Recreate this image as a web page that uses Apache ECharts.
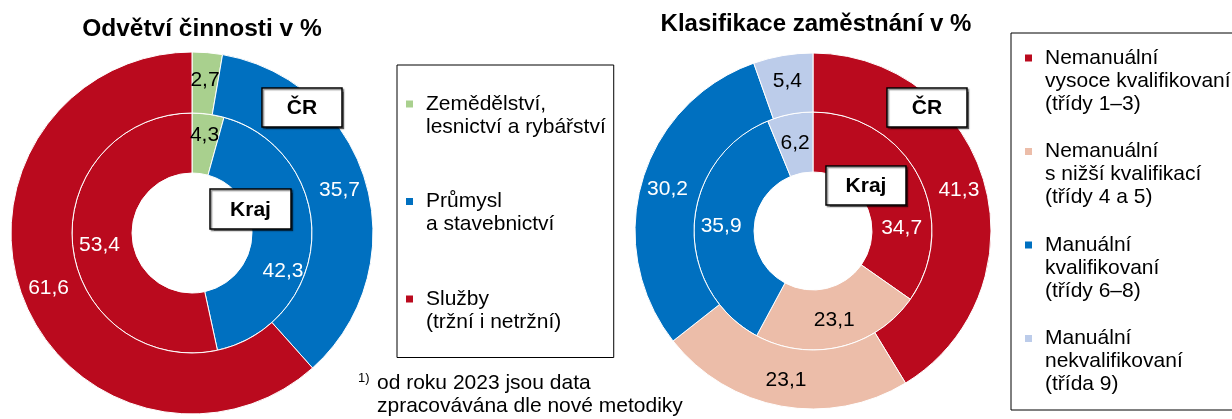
<!DOCTYPE html>
<html><head><meta charset="utf-8">
<script src="https://cdn.jsdelivr.net/npm/echarts@6/dist/echarts.min.js"></script>
<style>html,body{margin:0;padding:0;background:#fff}#c{width:1232px;height:419px}</style>
</head><body><div id="c"></div>
<script>
// ---- data ----
const sectorNames = ['Zemědělství,\nlesnictví a rybářství', 'Průmysl\na stavebnictví', 'Služby\n(tržní i netržní)'];
const sectorKraj = [4.3, 42.3, 53.4];
const sectorCR = [2.7, 35.7, 61.6];

const occupNames = ['Nemanuální\nvysoce kvalifikovaní\n(třídy 1–3)', 'Nemanuální\ns nižší kvalifikací\n(třídy 4 a 5)', 'Manuální\nkvalifikovaní\n(třídy 6–8)', 'Manuální\nnekvalifikovaní\n(třída 9)'];
const occupKraj = [34.7, 23.1, 35.9, 6.2];
const occupCR = [41.3, 23.1, 30.2, 5.4];

// ---- styles ----
const FONT = 'Liberation Sans, Arial, sans-serif';
const sectorColors = ['#A9D08E', '#0070C0', '#BA0A1E'];
const sectorLabelColors = ['#000', '#fff', '#fff'];
const occupColors = ['#BA0A1E', '#ECBDA9', '#0070C0', '#BCCCEA'];
const occupLabelColors = ['#fff', '#000', '#fff', '#000'];
const sectorKrajOffsets = [[0, -6], [-2, 36], [0, 2]];
const occupKrajOffsets = [[7, 40], [0, 0], [0, 0], [0, 2]];

const fmt = v => v.toFixed(1).replace('.', ',');
const LH = 23;
// legend marker aligned with the first text line of a multi-line item
const topIcon = lines => 'path://M0,0H9 M0,7H9V16H0Z M0,' + (lines * LH) + 'H9';

function ring(name, vals, names, colors, labelColors, center, radius, offsets) {
  return {
    type: 'pie', name, center, radius, startAngle: 90, clockwise: true,
    silent: true, animation: false, avoidLabelOverlap: false, z: 2,
    label: { show: true, position: 'inside', fontSize: 21, fontFamily: FONT, formatter: p => fmt(p.value) },
    labelLine: { show: false },
    itemStyle: { borderColor: '#fff', borderWidth: 1 },
    data: vals.map((v, i) => ({
      name: names[i], value: v,
      itemStyle: { color: colors[i] },
      label: { color: labelColors[i], offset: offsets ? offsets[i] : [0, 0] }
    }))
  };
}

function box(txt, x, y, w, h) {
  return {
    type: 'group', x, y, z: 100,
    children: [
      { type: 'rect', z: 100, shape: { x: 0, y: 0, width: w, height: h },
        style: { fill: '#fff', stroke: '#000', lineWidth: 1.5, shadowColor: 'rgba(0,0,0,0.45)', shadowOffsetX: 1.5, shadowOffsetY: 1.5, shadowBlur: 1 } },
      { type: 'text', z: 101, x: w / 2, y: h / 2 + 1,
        style: { text: txt, fontSize: 21, fontWeight: 'bold', fontFamily: FONT, fill: '#000', align: 'center', verticalAlign: 'middle' } }
    ]
  };
}

const chart = echarts.init(document.getElementById('c'));
chart.setOption({
  backgroundColor: '#fff',
  animation: false,
  legend: [{
    data: sectorNames, orient: 'vertical', left: 397, top: 65, height: 2000,
    icon: topIcon(2), itemWidth: 9, itemHeight: 2 * LH, itemGap: 49.5,
    padding: [26.5, 8, 23, 7], borderColor: '#000', borderWidth: 1,
    selectedMode: false,
    textStyle: { fontSize: 21, lineHeight: LH, color: '#000', fontFamily: FONT, padding: [0, 0, 0, 7] }
  }, {
    data: occupNames, orient: 'vertical', left: 1011, top: 33, height: 2000,
    icon: topIcon(3), itemWidth: 9, itemHeight: 3 * LH, itemGap: 22.5,
    padding: [12.5, 40, 13, 12], borderColor: '#000', borderWidth: 1,
    selectedMode: false,
    textStyle: { fontSize: 21, lineHeight: LH, color: '#000', fontFamily: FONT, padding: [0, 0, 0, 7] }
  }],
  series: [
    ring('Kraj', sectorKraj, sectorNames, sectorColors, sectorLabelColors, [192, 233], [60, 120], sectorKrajOffsets),
    ring('ČR', sectorCR, sectorNames, sectorColors, sectorLabelColors, [192, 233], [120, 181]),
    ring('Kraj', occupKraj, occupNames, occupColors, occupLabelColors, [813, 231], [59, 119], occupKrajOffsets),
    ring('ČR', occupCR, occupNames, occupColors, occupLabelColors, [813, 231], [119, 178])
  ],
  graphic: [
    { type: 'text', x: 202, y: 29, style: { text: 'Odvětví činnosti v %', fontSize: 24.5, fontWeight: 'bold', fontFamily: FONT, fill: '#000', align: 'center', verticalAlign: 'middle' } },
    { type: 'text', x: 816, y: 24, style: { text: 'Klasifikace zaměstnání v %', fontSize: 24, fontWeight: 'bold', fontFamily: FONT, fill: '#000', align: 'center', verticalAlign: 'middle' } },
    box('ČR', 262, 88, 80, 39),
    box('Kraj', 210, 189, 81, 40),
    box('ČR', 887, 88, 80, 39),
    box('Kraj', 826, 166, 80, 39),
    { type: 'text', x: 358, y: 378, style: { text: '1)', fontSize: 13, fontFamily: FONT, fill: '#000', align: 'left', verticalAlign: 'middle' } },
    { type: 'text', x: 377, y: 383, style: { text: 'od roku 2023 jsou data', fontSize: 21, fontFamily: FONT, fill: '#000', align: 'left', verticalAlign: 'middle' } },
    { type: 'text', x: 377, y: 406.5, style: { text: 'zpracovávána dle nové metodiky', fontSize: 21, fontFamily: FONT, fill: '#000', align: 'left', verticalAlign: 'middle' } }
  ]
});
</script>
</body></html>
